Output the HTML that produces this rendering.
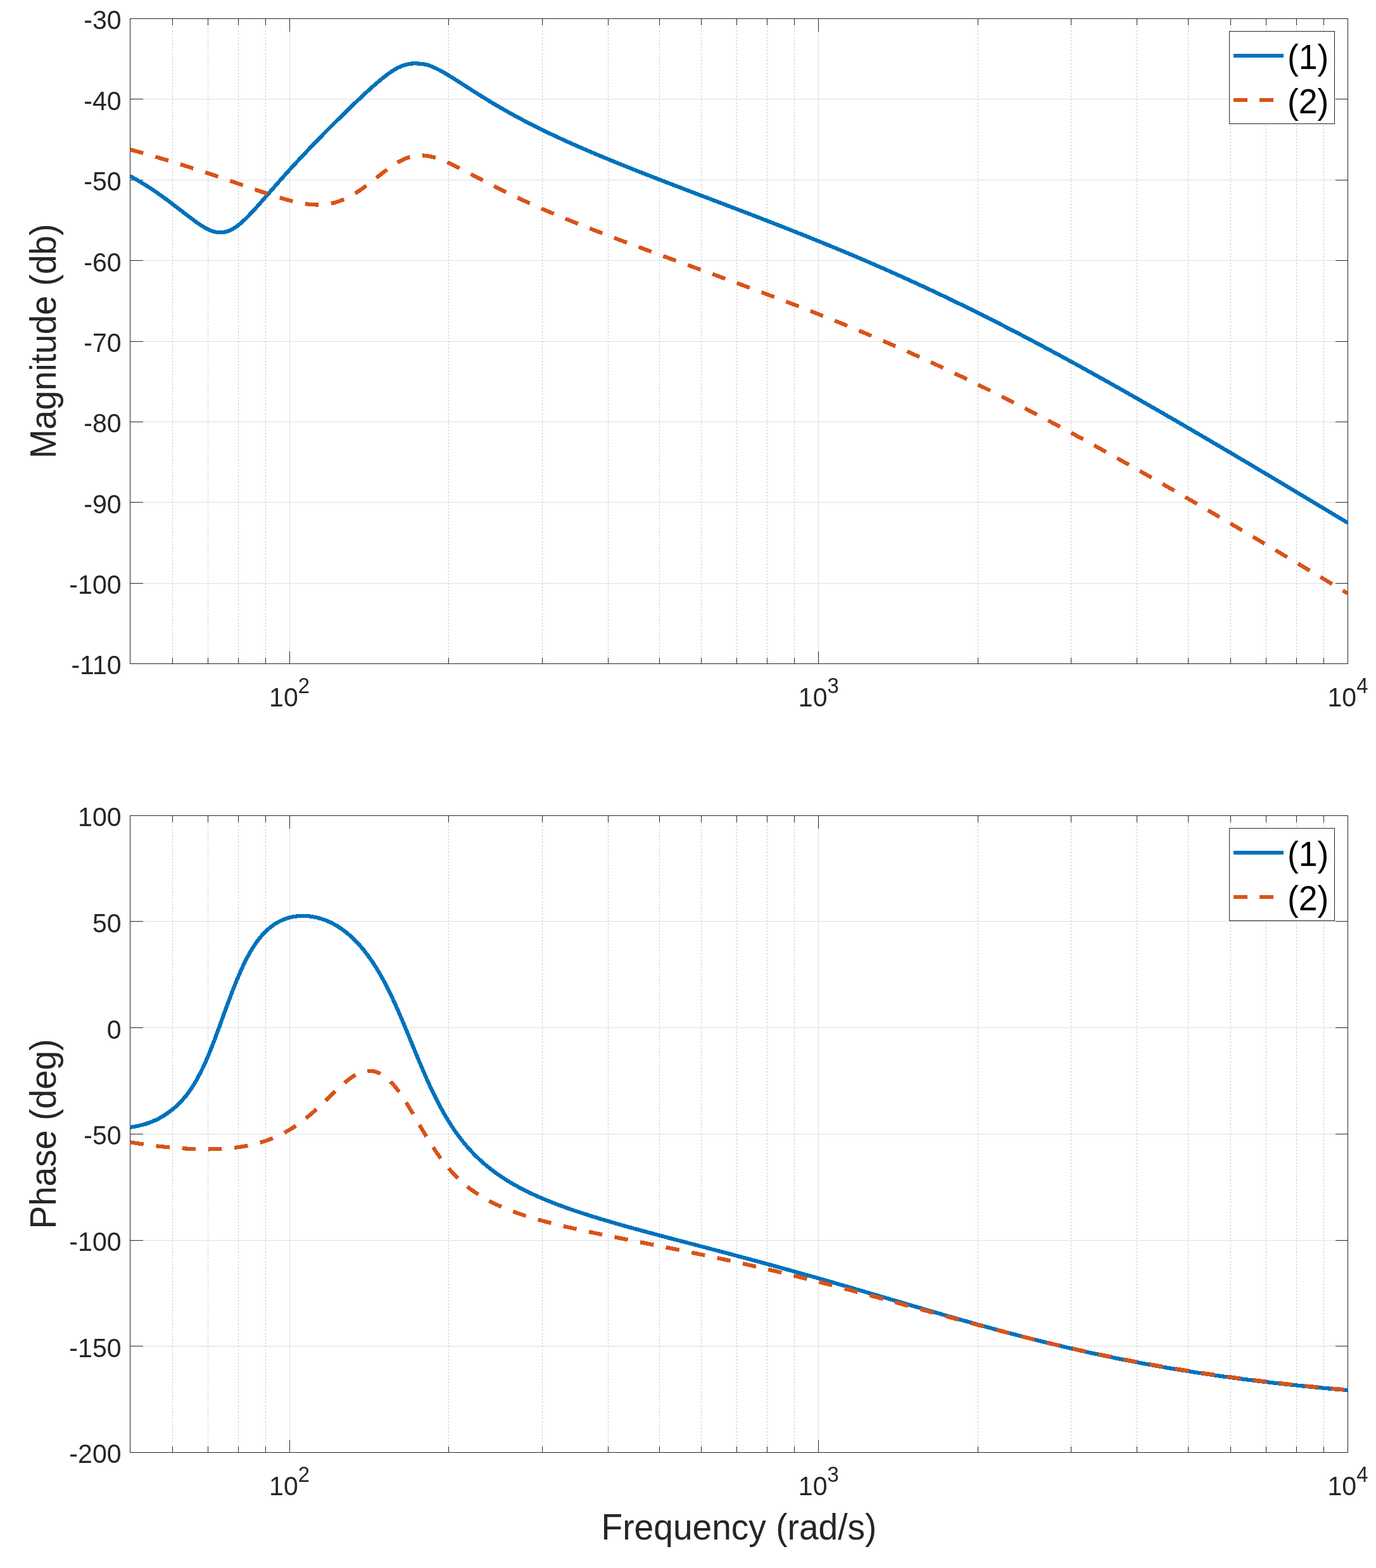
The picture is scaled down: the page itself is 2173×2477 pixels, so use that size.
<!DOCTYPE html>
<html lang="en">
<head>
<meta charset="utf-8">
<title>Bode plot</title>
<style>
html,body{margin:0;padding:0;background:#fff;}
body{width:2173px;height:2477px;overflow:hidden;}
svg{display:block;}
</style>
</head>
<body>
<svg width="2173" height="2477" viewBox="0 0 2173 2477" font-family="'Liberation Sans', sans-serif">
<rect x="0" y="0" width="2173" height="2477" fill="#ffffff"/>
<g id="axes1">
<path d="M205.5 156.5H2128.5M205.5 284.5H2128.5M205.5 411.5H2128.5M205.5 539.5H2128.5M205.5 666.5H2128.5M205.5 793.5H2128.5M205.5 921.5H2128.5M457.5 29.5V1048.5M1292.5 29.5V1048.5" stroke="#dfdfdf" stroke-width="1" fill="none" shape-rendering="crispEdges"/>
<path d="M272.5 1048V29.5M328.5 1048V29.5M376.5 1048V29.5M419.5 1048V29.5M708.5 1048V29.5M856.5 1048V29.5M960.5 1048V29.5M1041.5 1048V29.5M1107.5 1048V29.5M1163.5 1048V29.5M1211.5 1048V29.5M1254.5 1048V29.5M1544.5 1048V29.5M1691.5 1048V29.5M1795.5 1048V29.5M1876.5 1048V29.5M1943.5 1048V29.5M1999.5 1048V29.5M2047.5 1048V29.5M2090.5 1048V29.5" stroke="#c6c6c6" stroke-width="1" stroke-dasharray="2.5 2.67" fill="none"/>
<path d="M272.5 1048.5v-10M272.5 29.5v10M328.5 1048.5v-10M328.5 29.5v10M376.5 1048.5v-10M376.5 29.5v10M419.5 1048.5v-10M419.5 29.5v10M708.5 1048.5v-10M708.5 29.5v10M856.5 1048.5v-10M856.5 29.5v10M960.5 1048.5v-10M960.5 29.5v10M1041.5 1048.5v-10M1041.5 29.5v10M1107.5 1048.5v-10M1107.5 29.5v10M1163.5 1048.5v-10M1163.5 29.5v10M1211.5 1048.5v-10M1211.5 29.5v10M1254.5 1048.5v-10M1254.5 29.5v10M1544.5 1048.5v-10M1544.5 29.5v10M1691.5 1048.5v-10M1691.5 29.5v10M1795.5 1048.5v-10M1795.5 29.5v10M1876.5 1048.5v-10M1876.5 29.5v10M1943.5 1048.5v-10M1943.5 29.5v10M1999.5 1048.5v-10M1999.5 29.5v10M2047.5 1048.5v-10M2047.5 29.5v10M2090.5 1048.5v-10M2090.5 29.5v10M457.5 1048.5v-20M457.5 29.5v20M1292.5 1048.5v-20M1292.5 29.5v20M205.5 156.5h20M2128.5 156.5h-20M205.5 284.5h20M2128.5 284.5h-20M205.5 411.5h20M2128.5 411.5h-20M205.5 539.5h20M2128.5 539.5h-20M205.5 666.5h20M2128.5 666.5h-20M205.5 793.5h20M2128.5 793.5h-20M205.5 921.5h20M2128.5 921.5h-20" stroke="#262626" stroke-width="1.0" fill="none" shape-rendering="crispEdges"/>
<rect x="205.5" y="29.5" width="1923" height="1019" fill="none" stroke="#262626" stroke-width="1.0" shape-rendering="crispEdges"/>
<polyline points="205.5,278.15 210.09,280.71 214.68,283.34 219.27,286.03 223.86,288.79 228.45,291.61 233.04,294.5 237.63,297.46 242.22,300.49 246.81,303.61 251.39,306.82 255.98,310.09 260.57,313.44 265.16,316.83 269.75,320.28 274.34,323.76 278.93,327.25 283.52,330.76 288.11,334.3 292.7,337.84 297.29,341.38 301.88,344.88 306.47,348.31 311.06,351.64 315.65,354.8 320.24,357.75 324.83,360.43 329.42,362.77 334.01,364.7 338.6,366.15 343.18,367.06 347.77,367.38 352.36,367.09 356.95,366.17 361.54,364.63 366.13,362.49 370.72,359.78 375.31,356.56 379.9,352.89 384.49,348.83 389.08,344.44 393.67,339.79 398.26,334.93 402.85,329.91 407.44,324.78 412.03,319.58 416.62,314.34 421.21,309.08 425.8,303.82 430.39,298.57 434.97,293.34 439.56,288.14 444.15,282.96 448.74,277.81 453.33,272.7 457.92,267.63 462.51,262.61 467.1,257.62 471.69,252.68 476.28,247.77 480.87,242.9 485.46,238.06 490.05,233.26 494.64,228.47 499.23,223.72 503.82,218.98 508.41,214.27 513,209.58 517.59,204.94 522.18,200.34 526.76,195.77 531.35,191.24 535.94,186.73 540.53,182.24 545.12,177.76 549.71,173.3 554.3,168.85 558.89,164.41 563.48,159.99 568.07,155.62 572.66,151.31 577.25,147.05 581.84,142.85 586.43,138.71 591.02,134.66 595.61,130.69 600.2,126.83 604.79,123.08 609.38,119.45 613.97,116.01 618.55,112.81 623.14,109.9 627.73,107.34 632.32,105.17 636.91,103.39 641.5,102.01 646.09,101.03 650.68,100.44 655.27,100.25 659.86,100.44 664.45,100.86 669.04,101.3 673.63,102.15 678.22,103.64 682.81,105.44 687.4,107.47 691.99,109.72 696.58,112.15 701.17,114.73 705.76,117.43 710.34,120.22 714.93,123.06 719.52,125.96 724.11,128.89 728.7,131.84 733.29,134.8 737.88,137.76 742.47,140.71 747.06,143.65 751.65,146.57 756.24,149.47 760.83,152.34 765.42,155.19 770.01,158 774.6,160.79 779.19,163.54 783.78,166.26 788.37,168.95 792.96,171.6 797.55,174.22 802.13,176.81 806.72,179.37 811.31,181.9 815.9,184.4 820.49,186.86 825.08,189.3 829.67,191.71 834.26,194.09 838.85,196.44 843.44,198.77 848.03,201.07 852.62,203.35 857.21,205.6 861.8,207.83 866.39,210.04 870.98,212.23 875.57,214.39 880.16,216.54 884.75,218.67 889.34,220.78 893.92,222.87 898.51,224.94 903.1,227 907.69,229.04 912.28,231.06 916.87,233.07 921.46,235.07 926.05,237.05 930.64,239.02 935.23,240.97 939.82,242.92 944.41,244.85 949,246.77 953.59,248.68 958.18,250.58 962.77,252.47 967.36,254.35 971.95,256.23 976.54,258.09 981.13,259.94 985.71,261.79 990.3,263.63 994.89,265.46 999.48,267.29 1004.07,269.11 1008.66,270.92 1013.25,272.72 1017.84,274.53 1022.43,276.32 1027.02,278.11 1031.61,279.9 1036.2,281.68 1040.79,283.46 1045.38,285.23 1049.97,287 1054.56,288.77 1059.15,290.53 1063.74,292.3 1068.33,294.05 1072.92,295.81 1077.5,297.56 1082.09,299.32 1086.68,301.07 1091.27,302.82 1095.86,304.56 1100.45,306.31 1105.04,308.06 1109.63,309.8 1114.22,311.55 1118.81,313.29 1123.4,315.04 1127.99,316.78 1132.58,318.53 1137.17,320.27 1141.76,322.02 1146.35,323.77 1150.94,325.52 1155.53,327.27 1160.12,329.02 1164.71,330.77 1169.29,332.53 1173.88,334.29 1178.47,336.05 1183.06,337.81 1187.65,339.57 1192.24,341.34 1196.83,343.11 1201.42,344.88 1206.01,346.66 1210.6,348.44 1215.19,350.22 1219.78,352.01 1224.37,353.8 1228.96,355.59 1233.55,357.39 1238.14,359.19 1242.73,361 1247.32,362.81 1251.91,364.62 1256.5,366.44 1261.08,368.27 1265.67,370.1 1270.26,371.93 1274.85,373.77 1279.44,375.62 1284.03,377.47 1288.62,379.33 1293.21,381.19 1297.8,383.06 1302.39,384.93 1306.98,386.81 1311.57,388.7 1316.16,390.59 1320.75,392.49 1325.34,394.4 1329.93,396.31 1334.52,398.23 1339.11,400.16 1343.7,402.09 1348.29,404.03 1352.87,405.98 1357.46,407.93 1362.05,409.89 1366.64,411.86 1371.23,413.84 1375.82,415.82 1380.41,417.81 1385,419.81 1389.59,421.82 1394.18,423.83 1398.77,425.85 1403.36,427.88 1407.95,429.92 1412.54,431.97 1417.13,434.02 1421.72,436.08 1426.31,438.15 1430.9,440.23 1435.49,442.32 1440.08,444.41 1444.66,446.51 1449.25,448.62 1453.84,450.74 1458.43,452.87 1463.02,455 1467.61,457.15 1472.2,459.3 1476.79,461.46 1481.38,463.63 1485.97,465.8 1490.56,467.99 1495.15,470.18 1499.74,472.38 1504.33,474.59 1508.92,476.81 1513.51,479.04 1518.1,481.27 1522.69,483.52 1527.28,485.77 1531.87,488.03 1536.45,490.29 1541.04,492.57 1545.63,494.85 1550.22,497.14 1554.81,499.44 1559.4,501.75 1563.99,504.06 1568.58,506.38 1573.17,508.71 1577.76,511.05 1582.35,513.39 1586.94,515.75 1591.53,518.11 1596.12,520.47 1600.71,522.85 1605.3,525.23 1609.89,527.62 1614.48,530.02 1619.07,532.42 1623.66,534.83 1628.24,537.25 1632.83,539.67 1637.42,542.1 1642.01,544.54 1646.6,546.98 1651.19,549.44 1655.78,551.89 1660.37,554.36 1664.96,556.83 1669.55,559.3 1674.14,561.78 1678.73,564.27 1683.32,566.77 1687.91,569.27 1692.5,571.77 1697.09,574.29 1701.68,576.8 1706.27,579.33 1710.86,581.85 1715.45,584.39 1720.03,586.93 1724.62,589.47 1729.21,592.02 1733.8,594.58 1738.39,597.14 1742.98,599.7 1747.57,602.27 1752.16,604.84 1756.75,607.42 1761.34,610.01 1765.93,612.6 1770.52,615.19 1775.11,617.78 1779.7,620.39 1784.29,622.99 1788.88,625.6 1793.47,628.21 1798.06,630.83 1802.65,633.45 1807.24,636.08 1811.82,638.71 1816.41,641.34 1821,643.98 1825.59,646.62 1830.18,649.26 1834.77,651.91 1839.36,654.56 1843.95,657.21 1848.54,659.87 1853.13,662.53 1857.72,665.19 1862.31,667.86 1866.9,670.53 1871.49,673.2 1876.08,675.87 1880.67,678.55 1885.26,681.23 1889.85,683.91 1894.44,686.6 1899.03,689.29 1903.61,691.98 1908.2,694.67 1912.79,697.37 1917.38,700.07 1921.97,702.77 1926.56,705.47 1931.15,708.17 1935.74,710.88 1940.33,713.59 1944.92,716.3 1949.51,719.01 1954.1,721.73 1958.69,724.45 1963.28,727.17 1967.87,729.89 1972.46,732.61 1977.05,735.33 1981.64,738.06 1986.23,740.79 1990.82,743.52 1995.4,746.25 1999.99,748.98 2004.58,751.72 2009.17,754.45 2013.76,757.19 2018.35,759.93 2022.94,762.67 2027.53,765.41 2032.12,768.15 2036.71,770.9 2041.3,773.64 2045.89,776.39 2050.48,779.14 2055.07,781.89 2059.66,784.64 2064.25,787.39 2068.84,790.14 2073.43,792.9 2078.02,795.65 2082.61,798.41 2087.19,801.16 2091.78,803.92 2096.37,806.68 2100.96,809.44 2105.55,812.2 2110.14,814.96 2114.73,817.73 2119.32,820.49 2123.91,823.25 2128.5,826.02" fill="none" stroke="#0072bd" stroke-width="6.2" stroke-linejoin="round" shape-rendering="crispEdges"/>
<polyline points="205.5,236.23 210.09,237.5 214.68,238.78 219.27,240.06 223.86,241.36 228.45,242.66 233.04,243.98 237.63,245.31 242.22,246.64 246.81,247.99 251.39,249.35 255.98,250.72 260.57,252.1 265.16,253.48 269.75,254.88 274.34,256.29 278.93,257.71 283.52,259.14 288.11,260.58 292.7,262.03 297.29,263.5 301.88,264.97 306.47,266.45 311.06,267.94 315.65,269.44 320.24,270.95 324.83,272.47 329.42,274 334.01,275.54 338.6,277.09 343.18,278.64 347.77,280.21 352.36,281.78 356.95,283.36 361.54,284.94 366.13,286.54 370.72,288.13 375.31,289.73 379.9,291.34 384.49,292.94 389.08,294.55 393.67,296.15 398.26,297.75 402.85,299.35 407.44,300.94 412.03,302.52 416.62,304.08 421.21,305.63 425.8,307.16 430.39,308.66 434.97,310.14 439.56,311.58 444.15,312.98 448.74,314.33 453.33,315.63 457.92,316.86 462.51,318.03 467.1,319.11 471.69,320.1 476.28,320.99 480.87,321.76 485.46,322.41 490.05,322.93 494.64,323.29 499.23,323.48 503.82,323.5 508.41,323.33 513,322.95 517.59,322.37 522.18,321.56 526.76,320.52 531.35,319.25 535.94,317.74 540.53,315.99 545.12,314 549.71,311.78 554.3,309.34 558.89,306.69 563.48,303.84 568.07,300.8 572.66,297.61 577.25,294.27 581.84,290.82 586.43,287.28 591.02,283.68 595.61,280.05 600.2,276.42 604.79,272.83 609.38,269.32 613.97,265.93 618.55,262.68 623.14,259.63 627.73,256.8 632.32,254.23 636.91,251.96 641.5,250 646.09,248.38 650.68,247.12 655.27,246.21 659.86,245.66 664.45,245.47 669.04,245.61 673.63,246.07 678.22,246.83 682.81,247.86 687.4,249.12 691.99,250.61 696.58,252.28 701.17,254.11 705.76,256.07 710.34,258.15 714.93,260.32 719.52,262.57 724.11,264.87 728.7,267.22 733.29,269.6 737.88,272.01 742.47,274.42 747.06,276.85 751.65,279.27 756.24,281.69 760.83,284.1 765.42,286.5 770.01,288.88 774.6,291.25 779.19,293.59 783.78,295.92 788.37,298.23 792.96,300.51 797.55,302.78 802.13,305.02 806.72,307.24 811.31,309.44 815.9,311.62 820.49,313.78 825.08,315.92 829.67,318.03 834.26,320.13 838.85,322.21 843.44,324.27 848.03,326.31 852.62,328.33 857.21,330.34 861.8,332.33 866.39,334.3 870.98,336.26 875.57,338.21 880.16,340.14 884.75,342.06 889.34,343.96 893.92,345.85 898.51,347.73 903.1,349.6 907.69,351.45 912.28,353.3 916.87,355.13 921.46,356.96 926.05,358.77 930.64,360.58 935.23,362.38 939.82,364.17 944.41,365.95 949,367.73 953.59,369.49 958.18,371.25 962.77,373.01 967.36,374.75 971.95,376.5 976.54,378.23 981.13,379.96 985.71,381.69 990.3,383.41 994.89,385.13 999.48,386.84 1004.07,388.55 1008.66,390.25 1013.25,391.95 1017.84,393.65 1022.43,395.35 1027.02,397.04 1031.61,398.73 1036.2,400.42 1040.79,402.1 1045.38,403.79 1049.97,405.47 1054.56,407.15 1059.15,408.83 1063.74,410.51 1068.33,412.18 1072.92,413.86 1077.5,415.54 1082.09,417.21 1086.68,418.89 1091.27,420.56 1095.86,422.24 1100.45,423.91 1105.04,425.59 1109.63,427.27 1114.22,428.94 1118.81,430.62 1123.4,432.3 1127.99,433.98 1132.58,435.67 1137.17,437.35 1141.76,439.04 1146.35,440.72 1150.94,442.41 1155.53,444.11 1160.12,445.8 1164.71,447.5 1169.29,449.2 1173.88,450.9 1178.47,452.61 1183.06,454.31 1187.65,456.02 1192.24,457.74 1196.83,459.46 1201.42,461.18 1206.01,462.9 1210.6,464.63 1215.19,466.37 1219.78,468.1 1224.37,469.85 1228.96,471.59 1233.55,473.34 1238.14,475.1 1242.73,476.86 1247.32,478.62 1251.91,480.39 1256.5,482.17 1261.08,483.95 1265.67,485.73 1270.26,487.52 1274.85,489.32 1279.44,491.12 1284.03,492.93 1288.62,494.74 1293.21,496.56 1297.8,498.39 1302.39,500.22 1306.98,502.06 1311.57,503.9 1316.16,505.75 1320.75,507.61 1325.34,509.47 1329.93,511.35 1334.52,513.22 1339.11,515.11 1343.7,517 1348.29,518.9 1352.87,520.81 1357.46,522.72 1362.05,524.64 1366.64,526.57 1371.23,528.51 1375.82,530.45 1380.41,532.4 1385,534.36 1389.59,536.33 1394.18,538.31 1398.77,540.29 1403.36,542.28 1407.95,544.28 1412.54,546.29 1417.13,548.3 1421.72,550.33 1426.31,552.36 1430.9,554.4 1435.49,556.45 1440.08,558.51 1444.66,560.57 1449.25,562.65 1453.84,564.73 1458.43,566.82 1463.02,568.92 1467.61,571.02 1472.2,573.14 1476.79,575.27 1481.38,577.4 1485.97,579.54 1490.56,581.69 1495.15,583.85 1499.74,586.02 1504.33,588.19 1508.92,590.38 1513.51,592.57 1518.1,594.77 1522.69,596.98 1527.28,599.2 1531.87,601.42 1536.45,603.66 1541.04,605.9 1545.63,608.15 1550.22,610.41 1554.81,612.68 1559.4,614.95 1563.99,617.24 1568.58,619.53 1573.17,621.83 1577.76,624.14 1582.35,626.45 1586.94,628.77 1591.53,631.1 1596.12,633.44 1600.71,635.79 1605.3,638.14 1609.89,640.51 1614.48,642.87 1619.07,645.25 1623.66,647.64 1628.24,650.03 1632.83,652.42 1637.42,654.83 1642.01,657.24 1646.6,659.66 1651.19,662.09 1655.78,664.52 1660.37,666.96 1664.96,669.41 1669.55,671.86 1674.14,674.32 1678.73,676.78 1683.32,679.26 1687.91,681.73 1692.5,684.22 1697.09,686.71 1701.68,689.21 1706.27,691.71 1710.86,694.22 1715.45,696.73 1720.03,699.25 1724.62,701.78 1729.21,704.31 1733.8,706.84 1738.39,709.38 1742.98,711.93 1747.57,714.48 1752.16,717.04 1756.75,719.6 1761.34,722.17 1765.93,724.74 1770.52,727.31 1775.11,729.89 1779.7,732.48 1784.29,735.07 1788.88,737.66 1793.47,740.26 1798.06,742.87 1802.65,745.47 1807.24,748.08 1811.82,750.7 1816.41,753.32 1821,755.94 1825.59,758.57 1830.18,761.2 1834.77,763.83 1839.36,766.47 1843.95,769.11 1848.54,771.76 1853.13,774.41 1857.72,777.06 1862.31,779.71 1866.9,782.37 1871.49,785.03 1876.08,787.7 1880.67,790.37 1885.26,793.04 1889.85,795.71 1894.44,798.39 1899.03,801.07 1903.61,803.75 1908.2,806.43 1912.79,809.12 1917.38,811.81 1921.97,814.5 1926.56,817.19 1931.15,819.89 1935.74,822.59 1940.33,825.29 1944.92,828 1949.51,830.7 1954.1,833.41 1958.69,836.12 1963.28,838.83 1967.87,841.55 1972.46,844.26 1977.05,846.98 1981.64,849.7 1986.23,852.42 1990.82,855.15 1995.4,857.87 1999.99,860.6 2004.58,863.33 2009.17,866.06 2013.76,868.79 2018.35,871.52 2022.94,874.26 2027.53,877 2032.12,879.73 2036.71,882.47 2041.3,885.21 2045.89,887.96 2050.48,890.7 2055.07,893.45 2059.66,896.19 2064.25,898.94 2068.84,901.69 2073.43,904.44 2078.02,907.19 2082.61,909.94 2087.19,912.69 2091.78,915.45 2096.37,918.2 2100.96,920.96 2105.55,923.72 2110.14,926.48 2114.73,929.24 2119.32,932 2123.91,934.76 2128.5,937.52" fill="none" stroke="#d95319" stroke-width="6.2" stroke-dasharray="21.5 19.85" stroke-linejoin="round" shape-rendering="crispEdges"/>
<g font-size="43.3" fill="#262626" text-anchor="end">
<text transform="translate(191.6 46.4) scale(0.949 1)">-30</text>
<text transform="translate(191.6 173.78) scale(0.949 1)">-40</text>
<text transform="translate(191.6 301.15) scale(0.949 1)">-50</text>
<text transform="translate(191.6 428.52) scale(0.949 1)">-60</text>
<text transform="translate(191.6 555.9) scale(0.949 1)">-70</text>
<text transform="translate(191.6 683.27) scale(0.949 1)">-80</text>
<text transform="translate(191.6 810.65) scale(0.949 1)">-90</text>
<text transform="translate(191.6 938.02) scale(0.949 1)">-100</text>
<text transform="translate(191.6 1065.4) scale(0.949 1)">-110</text>
</g>
<g font-size="43.3" fill="#262626">
<text transform="translate(425.07 1116.2) scale(0.949 1)">10<tspan font-size="34.6" dy="-21.6">2</tspan></text>
<text transform="translate(1260.79 1116.2) scale(0.949 1)">10<tspan font-size="34.6" dy="-21.6">3</tspan></text>
<text transform="translate(2096.5 1116.2) scale(0.949 1)">10<tspan font-size="34.6" dy="-21.6">4</tspan></text>
</g>
<text transform="translate(88 539) rotate(-90) scale(0.96 1)" font-size="57.4" fill="#262626" text-anchor="middle">Magnitude (db)</text>
<rect x="1941.5" y="49.5" width="166" height="146" fill="#ffffff" stroke="#262626" stroke-width="1.0" shape-rendering="crispEdges"/>
<path d="M1948 88H2027" stroke="#0072bd" stroke-width="6" fill="none" shape-rendering="crispEdges"/>
<path d="M1948 158H2027" stroke="#d95319" stroke-width="6" stroke-dasharray="21.5 19.85" fill="none" shape-rendering="crispEdges"/>
<g font-size="56.0" fill="#000000">
<text transform="translate(2032.9 109.4) scale(0.957 1)">(1)</text>
<text transform="translate(2032.9 179.2) scale(0.957 1)">(2)</text>
</g>
</g>
<g id="axes2">
<path d="M205.5 1455.5H2128.5M205.5 1623.5H2128.5M205.5 1791.5H2128.5M205.5 1959.5H2128.5M205.5 2126.5H2128.5M457.5 1288.5V2294.5M1292.5 1288.5V2294.5" stroke="#dfdfdf" stroke-width="1" fill="none" shape-rendering="crispEdges"/>
<path d="M272.5 2294V1288.5M328.5 2294V1288.5M376.5 2294V1288.5M419.5 2294V1288.5M708.5 2294V1288.5M856.5 2294V1288.5M960.5 2294V1288.5M1041.5 2294V1288.5M1107.5 2294V1288.5M1163.5 2294V1288.5M1211.5 2294V1288.5M1254.5 2294V1288.5M1544.5 2294V1288.5M1691.5 2294V1288.5M1795.5 2294V1288.5M1876.5 2294V1288.5M1943.5 2294V1288.5M1999.5 2294V1288.5M2047.5 2294V1288.5M2090.5 2294V1288.5" stroke="#c6c6c6" stroke-width="1" stroke-dasharray="2.5 2.67" fill="none"/>
<path d="M272.5 2294.5v-10M272.5 1288.5v10M328.5 2294.5v-10M328.5 1288.5v10M376.5 2294.5v-10M376.5 1288.5v10M419.5 2294.5v-10M419.5 1288.5v10M708.5 2294.5v-10M708.5 1288.5v10M856.5 2294.5v-10M856.5 1288.5v10M960.5 2294.5v-10M960.5 1288.5v10M1041.5 2294.5v-10M1041.5 1288.5v10M1107.5 2294.5v-10M1107.5 1288.5v10M1163.5 2294.5v-10M1163.5 1288.5v10M1211.5 2294.5v-10M1211.5 1288.5v10M1254.5 2294.5v-10M1254.5 1288.5v10M1544.5 2294.5v-10M1544.5 1288.5v10M1691.5 2294.5v-10M1691.5 1288.5v10M1795.5 2294.5v-10M1795.5 1288.5v10M1876.5 2294.5v-10M1876.5 1288.5v10M1943.5 2294.5v-10M1943.5 1288.5v10M1999.5 2294.5v-10M1999.5 1288.5v10M2047.5 2294.5v-10M2047.5 1288.5v10M2090.5 2294.5v-10M2090.5 1288.5v10M457.5 2294.5v-20M457.5 1288.5v20M1292.5 2294.5v-20M1292.5 1288.5v20M205.5 1455.5h20M2128.5 1455.5h-20M205.5 1623.5h20M2128.5 1623.5h-20M205.5 1791.5h20M2128.5 1791.5h-20M205.5 1959.5h20M2128.5 1959.5h-20M205.5 2126.5h20M2128.5 2126.5h-20" stroke="#262626" stroke-width="1.0" fill="none" shape-rendering="crispEdges"/>
<rect x="205.5" y="1288.5" width="1923" height="1006" fill="none" stroke="#262626" stroke-width="1.0" shape-rendering="crispEdges"/>
<polyline points="205.5,1780.82 210.09,1780.11 214.68,1779.28 219.27,1778.31 223.86,1777.19 228.45,1775.92 233.04,1774.48 237.63,1772.86 242.22,1771.03 246.81,1768.97 251.39,1766.65 255.98,1764.08 260.57,1761.23 265.16,1758.1 269.75,1754.67 274.34,1750.93 278.93,1746.9 283.52,1742.51 288.11,1737.7 292.7,1732.38 297.29,1726.5 301.88,1719.97 306.47,1712.78 311.06,1704.91 315.65,1696.34 320.24,1687.04 324.83,1677.03 329.42,1666.34 334.01,1655.02 338.6,1643.16 343.18,1630.85 347.77,1618.24 352.36,1605.47 356.95,1592.8 361.54,1580.34 366.13,1568.21 370.72,1556.48 375.31,1545.22 379.9,1534.5 384.49,1524.45 389.08,1515.12 393.67,1506.54 398.26,1498.72 402.85,1491.64 407.44,1485.25 412.03,1479.5 416.62,1474.37 421.21,1469.81 425.8,1465.77 430.39,1462.22 434.97,1459.13 439.56,1456.45 444.15,1454.15 448.74,1452.21 453.33,1450.6 457.92,1449.3 462.51,1448.3 467.1,1447.57 471.69,1447.1 476.28,1446.89 480.87,1446.92 485.46,1447.18 490.05,1447.65 494.64,1448.33 499.23,1449.23 503.82,1450.37 508.41,1451.74 513,1453.36 517.59,1455.2 522.18,1457.28 526.76,1459.6 531.35,1462.19 535.94,1465.05 540.53,1468.21 545.12,1471.65 549.71,1475.37 554.3,1479.38 558.89,1483.7 563.48,1488.34 568.07,1493.32 572.66,1498.65 577.25,1504.35 581.84,1510.44 586.43,1516.92 591.02,1523.82 595.61,1531.15 600.2,1538.91 604.79,1547.11 609.38,1555.75 613.97,1564.82 618.55,1574.31 623.14,1584.18 627.73,1594.42 632.32,1604.97 636.91,1615.79 641.5,1626.81 646.09,1637.96 650.68,1649.18 655.27,1660.38 659.86,1671.5 664.45,1682.47 669.04,1693.22 673.63,1703.7 678.22,1713.86 682.81,1723.67 687.4,1733.11 691.99,1742.15 696.58,1750.78 701.17,1759.02 705.76,1766.86 710.34,1774.3 714.93,1781.37 719.52,1788.08 724.11,1794.43 728.7,1800.47 733.29,1806.19 737.88,1811.62 742.47,1816.77 747.06,1821.67 751.65,1826.32 756.24,1830.76 760.83,1834.98 765.42,1839.01 770.01,1842.85 774.6,1846.53 779.19,1850.04 783.78,1853.41 788.37,1856.64 792.96,1859.74 797.55,1862.73 802.13,1865.6 806.72,1868.36 811.31,1871.03 815.9,1873.6 820.49,1876.09 825.08,1878.5 829.67,1880.84 834.26,1883.1 838.85,1885.3 843.44,1887.44 848.03,1889.51 852.62,1891.54 857.21,1893.51 861.8,1895.43 866.39,1897.31 870.98,1899.15 875.57,1900.94 880.16,1902.7 884.75,1904.42 889.34,1906.11 893.92,1907.76 898.51,1909.39 903.1,1910.99 907.69,1912.56 912.28,1914.1 916.87,1915.63 921.46,1917.13 926.05,1918.61 930.64,1920.06 935.23,1921.51 939.82,1922.93 944.41,1924.33 949,1925.73 953.59,1927.1 958.18,1928.46 962.77,1929.81 967.36,1931.15 971.95,1932.48 976.54,1933.79 981.13,1935.09 985.71,1936.39 990.3,1937.68 994.89,1938.96 999.48,1940.23 1004.07,1941.49 1008.66,1942.75 1013.25,1944 1017.84,1945.24 1022.43,1946.48 1027.02,1947.72 1031.61,1948.95 1036.2,1950.18 1040.79,1951.4 1045.38,1952.62 1049.97,1953.84 1054.56,1955.05 1059.15,1956.26 1063.74,1957.48 1068.33,1958.68 1072.92,1959.89 1077.5,1961.1 1082.09,1962.31 1086.68,1963.51 1091.27,1964.72 1095.86,1965.92 1100.45,1967.13 1105.04,1968.33 1109.63,1969.54 1114.22,1970.74 1118.81,1971.95 1123.4,1973.16 1127.99,1974.37 1132.58,1975.58 1137.17,1976.8 1141.76,1978.01 1146.35,1979.23 1150.94,1980.45 1155.53,1981.67 1160.12,1982.89 1164.71,1984.12 1169.29,1985.34 1173.88,1986.57 1178.47,1987.81 1183.06,1989.04 1187.65,1990.28 1192.24,1991.52 1196.83,1992.77 1201.42,1994.01 1206.01,1995.26 1210.6,1996.52 1215.19,1997.77 1219.78,1999.03 1224.37,2000.3 1228.96,2001.56 1233.55,2002.83 1238.14,2004.1 1242.73,2005.38 1247.32,2006.66 1251.91,2007.94 1256.5,2009.22 1261.08,2010.51 1265.67,2011.8 1270.26,2013.1 1274.85,2014.4 1279.44,2015.7 1284.03,2017 1288.62,2018.31 1293.21,2019.62 1297.8,2020.93 1302.39,2022.24 1306.98,2023.56 1311.57,2024.88 1316.16,2026.2 1320.75,2027.53 1325.34,2028.86 1329.93,2030.19 1334.52,2031.52 1339.11,2032.85 1343.7,2034.19 1348.29,2035.53 1352.87,2036.87 1357.46,2038.21 1362.05,2039.55 1366.64,2040.9 1371.23,2042.24 1375.82,2043.59 1380.41,2044.94 1385,2046.29 1389.59,2047.64 1394.18,2048.99 1398.77,2050.34 1403.36,2051.69 1407.95,2053.04 1412.54,2054.39 1417.13,2055.74 1421.72,2057.09 1426.31,2058.44 1430.9,2059.79 1435.49,2061.13 1440.08,2062.48 1444.66,2063.83 1449.25,2065.17 1453.84,2066.51 1458.43,2067.86 1463.02,2069.2 1467.61,2070.53 1472.2,2071.87 1476.79,2073.2 1481.38,2074.53 1485.97,2075.86 1490.56,2077.18 1495.15,2078.5 1499.74,2079.82 1504.33,2081.14 1508.92,2082.45 1513.51,2083.76 1518.1,2085.06 1522.69,2086.36 1527.28,2087.66 1531.87,2088.95 1536.45,2090.24 1541.04,2091.52 1545.63,2092.8 1550.22,2094.07 1554.81,2095.33 1559.4,2096.6 1563.99,2097.85 1568.58,2099.11 1573.17,2100.35 1577.76,2101.59 1582.35,2102.82 1586.94,2104.05 1591.53,2105.27 1596.12,2106.49 1600.71,2107.7 1605.3,2108.9 1609.89,2110.1 1614.48,2111.29 1619.07,2112.47 1623.66,2113.64 1628.24,2114.81 1632.83,2115.97 1637.42,2117.13 1642.01,2118.27 1646.6,2119.41 1651.19,2120.54 1655.78,2121.67 1660.37,2122.79 1664.96,2123.89 1669.55,2125 1674.14,2126.09 1678.73,2127.17 1683.32,2128.25 1687.91,2129.32 1692.5,2130.38 1697.09,2131.44 1701.68,2132.48 1706.27,2133.52 1710.86,2134.55 1715.45,2135.57 1720.03,2136.58 1724.62,2137.59 1729.21,2138.58 1733.8,2139.57 1738.39,2140.55 1742.98,2141.52 1747.57,2142.49 1752.16,2143.44 1756.75,2144.39 1761.34,2145.32 1765.93,2146.25 1770.52,2147.17 1775.11,2148.09 1779.7,2148.99 1784.29,2149.89 1788.88,2150.78 1793.47,2151.66 1798.06,2152.53 1802.65,2153.39 1807.24,2154.24 1811.82,2155.09 1816.41,2155.93 1821,2156.76 1825.59,2157.58 1830.18,2158.4 1834.77,2159.2 1839.36,2160 1843.95,2160.79 1848.54,2161.57 1853.13,2162.34 1857.72,2163.11 1862.31,2163.87 1866.9,2164.62 1871.49,2165.36 1876.08,2166.1 1880.67,2166.82 1885.26,2167.54 1889.85,2168.25 1894.44,2168.96 1899.03,2169.66 1903.61,2170.35 1908.2,2171.03 1912.79,2171.7 1917.38,2172.37 1921.97,2173.03 1926.56,2173.68 1931.15,2174.33 1935.74,2174.97 1940.33,2175.6 1944.92,2176.22 1949.51,2176.84 1954.1,2177.45 1958.69,2178.06 1963.28,2178.65 1967.87,2179.24 1972.46,2179.83 1977.05,2180.41 1981.64,2180.98 1986.23,2181.54 1990.82,2182.1 1995.4,2182.65 1999.99,2183.2 2004.58,2183.73 2009.17,2184.27 2013.76,2184.79 2018.35,2185.32 2022.94,2185.83 2027.53,2186.34 2032.12,2186.84 2036.71,2187.34 2041.3,2187.83 2045.89,2188.32 2050.48,2188.79 2055.07,2189.27 2059.66,2189.74 2064.25,2190.2 2068.84,2190.66 2073.43,2191.11 2078.02,2191.56 2082.61,2192 2087.19,2192.44 2091.78,2192.87 2096.37,2193.29 2100.96,2193.71 2105.55,2194.13 2110.14,2194.54 2114.73,2194.95 2119.32,2195.35 2123.91,2195.74 2128.5,2196.14" fill="none" stroke="#0072bd" stroke-width="6.2" stroke-linejoin="round" shape-rendering="crispEdges"/>
<polyline points="205.5,1804.42 210.09,1805.14 214.68,1805.84 219.27,1806.52 223.86,1807.18 228.45,1807.83 233.04,1808.45 237.63,1809.06 242.22,1809.64 246.81,1810.2 251.39,1810.74 255.98,1811.25 260.57,1811.74 265.16,1812.21 269.75,1812.65 274.34,1813.06 278.93,1813.44 283.52,1813.79 288.11,1814.12 292.7,1814.41 297.29,1814.67 301.88,1814.89 306.47,1815.08 311.06,1815.23 315.65,1815.34 320.24,1815.41 324.83,1815.44 329.42,1815.42 334.01,1815.36 338.6,1815.25 343.18,1815.09 347.77,1814.88 352.36,1814.61 356.95,1814.28 361.54,1813.89 366.13,1813.44 370.72,1812.91 375.31,1812.32 379.9,1811.65 384.49,1810.91 389.08,1810.08 393.67,1809.16 398.26,1808.16 402.85,1807.05 407.44,1805.85 412.03,1804.54 416.62,1803.11 421.21,1801.57 425.8,1799.91 430.39,1798.12 434.97,1796.19 439.56,1794.12 444.15,1791.91 448.74,1789.54 453.33,1787.02 457.92,1784.33 462.51,1781.48 467.1,1778.46 471.69,1775.27 476.28,1771.91 480.87,1768.39 485.46,1764.69 490.05,1760.84 494.64,1756.85 499.23,1752.71 503.82,1748.46 508.41,1744.11 513,1739.69 517.59,1735.22 522.18,1730.74 526.76,1726.29 531.35,1721.91 535.94,1717.64 540.53,1713.53 545.12,1709.63 549.71,1705.98 554.3,1702.64 558.89,1699.66 563.48,1697.09 568.07,1694.96 572.66,1693.33 577.25,1692.23 581.84,1691.69 586.43,1691.76 591.02,1692.45 595.61,1693.79 600.2,1695.79 604.79,1698.46 609.38,1701.79 613.97,1705.78 618.55,1710.41 623.14,1715.65 627.73,1721.46 632.32,1727.78 636.91,1734.56 641.5,1741.73 646.09,1749.21 650.68,1756.91 655.27,1764.75 659.86,1772.66 664.45,1780.55 669.04,1788.35 673.63,1796 678.22,1803.45 682.81,1810.66 687.4,1817.6 691.99,1824.25 696.58,1830.58 701.17,1836.61 705.76,1842.32 710.34,1847.72 714.93,1852.82 719.52,1857.64 724.11,1862.18 728.7,1866.46 733.29,1870.5 737.88,1874.3 742.47,1877.9 747.06,1881.29 751.65,1884.49 756.24,1887.53 760.83,1890.4 765.42,1893.12 770.01,1895.7 774.6,1898.16 779.19,1900.5 783.78,1902.73 788.37,1904.86 792.96,1906.9 797.55,1908.85 802.13,1910.72 806.72,1912.51 811.31,1914.24 815.9,1915.9 820.49,1917.51 825.08,1919.06 829.67,1920.56 834.26,1922.01 838.85,1923.42 843.44,1924.79 848.03,1926.13 852.62,1927.42 857.21,1928.69 861.8,1929.92 866.39,1931.13 870.98,1932.31 875.57,1933.47 880.16,1934.61 884.75,1935.72 889.34,1936.82 893.92,1937.9 898.51,1938.96 903.1,1940 907.69,1941.04 912.28,1942.06 916.87,1943.06 921.46,1944.06 926.05,1945.05 930.64,1946.03 935.23,1946.99 939.82,1947.96 944.41,1948.91 949,1949.86 953.59,1950.8 958.18,1951.74 962.77,1952.67 967.36,1953.6 971.95,1954.52 976.54,1955.45 981.13,1956.37 985.71,1957.28 990.3,1958.2 994.89,1959.11 999.48,1960.02 1004.07,1960.94 1008.66,1961.85 1013.25,1962.76 1017.84,1963.67 1022.43,1964.58 1027.02,1965.5 1031.61,1966.41 1036.2,1967.33 1040.79,1968.25 1045.38,1969.16 1049.97,1970.09 1054.56,1971.01 1059.15,1971.94 1063.74,1972.86 1068.33,1973.8 1072.92,1974.73 1077.5,1975.67 1082.09,1976.61 1086.68,1977.55 1091.27,1978.5 1095.86,1979.45 1100.45,1980.41 1105.04,1981.37 1109.63,1982.33 1114.22,1983.3 1118.81,1984.27 1123.4,1985.25 1127.99,1986.23 1132.58,1987.22 1137.17,1988.21 1141.76,1989.21 1146.35,1990.21 1150.94,1991.21 1155.53,1992.22 1160.12,1993.24 1164.71,1994.26 1169.29,1995.29 1173.88,1996.32 1178.47,1997.36 1183.06,1998.4 1187.65,1999.45 1192.24,2000.5 1196.83,2001.56 1201.42,2002.63 1206.01,2003.7 1210.6,2004.77 1215.19,2005.85 1219.78,2006.94 1224.37,2008.03 1228.96,2009.13 1233.55,2010.23 1238.14,2011.34 1242.73,2012.46 1247.32,2013.58 1251.91,2014.7 1256.5,2015.83 1261.08,2016.97 1265.67,2018.11 1270.26,2019.26 1274.85,2020.41 1279.44,2021.56 1284.03,2022.73 1288.62,2023.89 1293.21,2025.06 1297.8,2026.24 1302.39,2027.42 1306.98,2028.61 1311.57,2029.8 1316.16,2030.99 1320.75,2032.19 1325.34,2033.4 1329.93,2034.6 1334.52,2035.82 1339.11,2037.03 1343.7,2038.25 1348.29,2039.47 1352.87,2040.7 1357.46,2041.93 1362.05,2043.17 1366.64,2044.4 1371.23,2045.64 1375.82,2046.89 1380.41,2048.13 1385,2049.38 1389.59,2050.63 1394.18,2051.88 1398.77,2053.14 1403.36,2054.4 1407.95,2055.65 1412.54,2056.91 1417.13,2058.18 1421.72,2059.44 1426.31,2060.7 1430.9,2061.97 1435.49,2063.24 1440.08,2064.5 1444.66,2065.77 1449.25,2067.04 1453.84,2068.3 1458.43,2069.57 1463.02,2070.84 1467.61,2072.11 1472.2,2073.37 1476.79,2074.64 1481.38,2075.9 1485.97,2077.16 1490.56,2078.42 1495.15,2079.68 1499.74,2080.94 1504.33,2082.2 1508.92,2083.45 1513.51,2084.7 1518.1,2085.95 1522.69,2087.2 1527.28,2088.44 1531.87,2089.68 1536.45,2090.92 1541.04,2092.16 1545.63,2093.39 1550.22,2094.61 1554.81,2095.84 1559.4,2097.06 1563.99,2098.27 1568.58,2099.48 1573.17,2100.69 1577.76,2101.89 1582.35,2103.08 1586.94,2104.28 1591.53,2105.46 1596.12,2106.64 1600.71,2107.82 1605.3,2108.99 1609.89,2110.16 1614.48,2111.31 1619.07,2112.47 1623.66,2113.62 1628.24,2114.76 1632.83,2115.89 1637.42,2117.02 1642.01,2118.14 1646.6,2119.26 1651.19,2120.37 1655.78,2121.47 1660.37,2122.56 1664.96,2123.65 1669.55,2124.73 1674.14,2125.81 1678.73,2126.88 1683.32,2127.94 1687.91,2128.99 1692.5,2130.04 1697.09,2131.07 1701.68,2132.1 1706.27,2133.13 1710.86,2134.14 1715.45,2135.15 1720.03,2136.15 1724.62,2137.14 1729.21,2138.13 1733.8,2139.11 1738.39,2140.08 1742.98,2141.04 1747.57,2141.99 1752.16,2142.94 1756.75,2143.88 1761.34,2144.81 1765.93,2145.73 1770.52,2146.64 1775.11,2147.55 1779.7,2148.45 1784.29,2149.34 1788.88,2150.22 1793.47,2151.09 1798.06,2151.96 1802.65,2152.82 1807.24,2153.67 1811.82,2154.51 1816.41,2155.35 1821,2156.17 1825.59,2156.99 1830.18,2157.8 1834.77,2158.61 1839.36,2159.4 1843.95,2160.19 1848.54,2160.97 1853.13,2161.74 1857.72,2162.51 1862.31,2163.27 1866.9,2164.01 1871.49,2164.76 1876.08,2165.49 1880.67,2166.22 1885.26,2166.94 1889.85,2167.65 1894.44,2168.35 1899.03,2169.05 1903.61,2169.74 1908.2,2170.42 1912.79,2171.1 1917.38,2171.77 1921.97,2172.43 1926.56,2173.08 1931.15,2173.73 1935.74,2174.37 1940.33,2175 1944.92,2175.63 1949.51,2176.25 1954.1,2176.86 1958.69,2177.47 1963.28,2178.06 1967.87,2178.66 1972.46,2179.24 1977.05,2179.82 1981.64,2180.4 1986.23,2180.96 1990.82,2181.52 1995.4,2182.08 1999.99,2182.62 2004.58,2183.16 2009.17,2183.7 2013.76,2184.23 2018.35,2184.75 2022.94,2185.27 2027.53,2185.78 2032.12,2186.29 2036.71,2186.79 2041.3,2187.28 2045.89,2187.77 2050.48,2188.25 2055.07,2188.73 2059.66,2189.2 2064.25,2189.66 2068.84,2190.12 2073.43,2190.58 2078.02,2191.03 2082.61,2191.47 2087.19,2191.91 2091.78,2192.34 2096.37,2192.77 2100.96,2193.2 2105.55,2193.62 2110.14,2194.03 2114.73,2194.44 2119.32,2194.84 2123.91,2195.24 2128.5,2195.64" fill="none" stroke="#d95319" stroke-width="6.2" stroke-dasharray="21.5 19.85" stroke-linejoin="round" shape-rendering="crispEdges"/>
<g font-size="43.3" fill="#262626" text-anchor="end">
<text transform="translate(191.6 1305.4) scale(0.949 1)">100</text>
<text transform="translate(191.6 1473.07) scale(0.949 1)">50</text>
<text transform="translate(191.6 1640.73) scale(0.949 1)">0</text>
<text transform="translate(191.6 1808.4) scale(0.949 1)">-50</text>
<text transform="translate(191.6 1976.07) scale(0.949 1)">-100</text>
<text transform="translate(191.6 2143.73) scale(0.949 1)">-150</text>
<text transform="translate(191.6 2311.4) scale(0.949 1)">-200</text>
</g>
<g font-size="43.3" fill="#262626">
<text transform="translate(425.07 2362.2) scale(0.949 1)">10<tspan font-size="34.6" dy="-21.6">2</tspan></text>
<text transform="translate(1260.79 2362.2) scale(0.949 1)">10<tspan font-size="34.6" dy="-21.6">3</tspan></text>
<text transform="translate(2096.5 2362.2) scale(0.949 1)">10<tspan font-size="34.6" dy="-21.6">4</tspan></text>
</g>
<text transform="translate(88 1791.5) rotate(-90) scale(0.96 1)" font-size="57.4" fill="#262626" text-anchor="middle">Phase (deg)</text>
<rect x="1941.5" y="1308.5" width="166" height="146" fill="#ffffff" stroke="#262626" stroke-width="1.0" shape-rendering="crispEdges"/>
<path d="M1948 1347H2027" stroke="#0072bd" stroke-width="6" fill="none" shape-rendering="crispEdges"/>
<path d="M1948 1417H2027" stroke="#d95319" stroke-width="6" stroke-dasharray="21.5 19.85" fill="none" shape-rendering="crispEdges"/>
<g font-size="56.0" fill="#000000">
<text transform="translate(2032.9 1368.4) scale(0.957 1)">(1)</text>
<text transform="translate(2032.9 1438.2) scale(0.957 1)">(2)</text>
</g>
</g>
<text transform="translate(1167 2431.5) scale(0.96 1)" font-size="57.4" fill="#262626" text-anchor="middle">Frequency (rad/s)</text>
</svg>
</body>
</html>
